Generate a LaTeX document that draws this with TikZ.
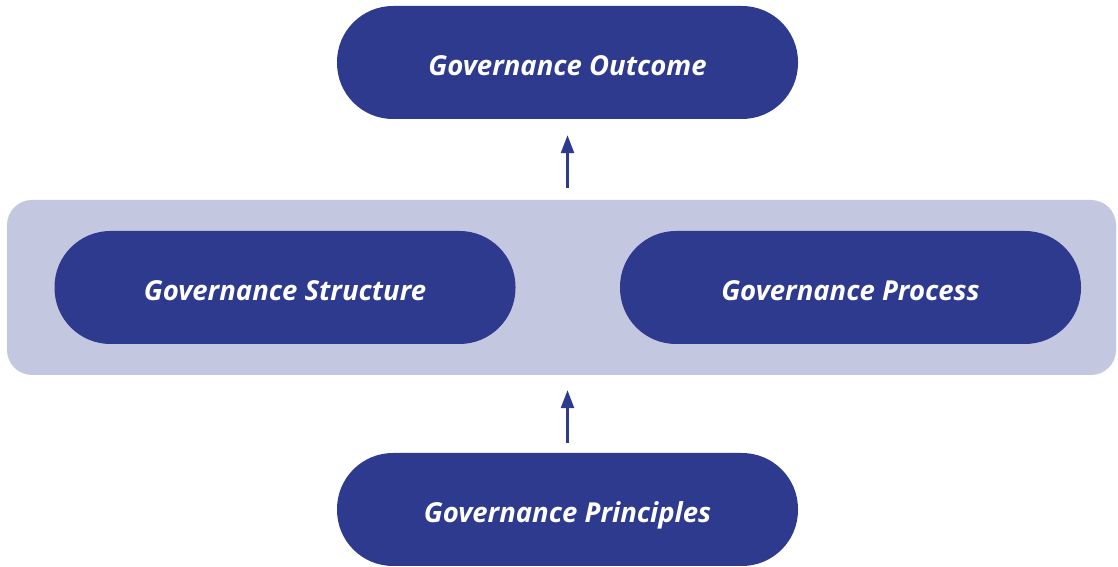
\documentclass[tikz,border=0pt]{standalone}
\usepackage{fontspec}
\setmainfont{Open Sans}
\usetikzlibrary{arrows.meta,positioning}
\definecolor{govblue}{HTML}{2D3A8E}
\definecolor{layergray}{HTML}{C3C7E0}

\begin{document}
\begin{tikzpicture}[
  x=1pt, y=1pt,
  >={Triangle[length=18pt,width=13pt]},
  pill/.style={fill=govblue, rounded corners=56pt, minimum width=461pt, minimum height=113pt,
    text=white, text height=27pt, text depth=1pt, font=\fontsize{27.5}{32}\selectfont\bfseries\itshape},
  layer/.style={fill=layergray, rounded corners=25pt, minimum width=1109pt, minimum height=175pt},
  flow/.style={->, draw=govblue, line width=2.5pt}
]
  \useasboundingbox (0,0) rectangle (1118,567);
  \node[layer] (mid) at (561.5,279.5) {};
  \node[pill] (outcome) at (567.5,504.5) {Governance Outcome};
  \node[pill] (structure) at (285,279.5) {Governance Structure};
  \node[pill] (process) at (850.5,279.5) {Governance Process};
  \node[pill] (principles) at (567.5,57.5) {Governance Principles};
  \draw[flow, shorten <=12pt, shorten >=16pt] (mid.north -| outcome.south) -- (outcome.south);
  \draw[flow, shorten <=10pt, shorten >=15pt] (principles.north) -- (principles.north |- mid.south);
\end{tikzpicture}
\end{document}
